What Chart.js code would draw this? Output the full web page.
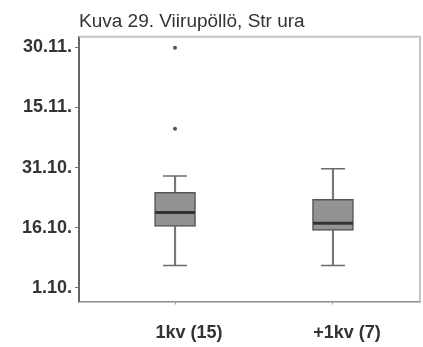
<!DOCTYPE html>
<html>
<head>
<meta charset="utf-8">
<title>Kuva 29. Viirupöllö, Str ura</title>
<script src="https://cdn.jsdelivr.net/npm/chart.js@4/dist/chart.umd.min.js"></script>
<style>
  html, body { margin: 0; padding: 0; background: #fff; }
  #wrap { width: 423px; height: 347px; position: relative; }
</style>
</head>
<body>
<div id="wrap"><canvas id="c"></canvas></div>
<script>
// Days counted from 1 October (1.10. = 0)
const categories = ['1kv (15)', '+1kv (7)'];
const whiskerLow = [5.6, 5.6];
const quartile1 = [15.3, 14.3];
const median = [18.8, 16.1];
const quartile3 = [23.8, 22.1];
const whiskerHigh = [27.9, 29.7];
const outliers = [[39.7, 59.9], []];
const tickValues = [0, 15, 30, 45, 60];
const tickLabels = ['1.10.', '16.10.', '31.10.', '15.11.', '30.11.'];

const pos = categories.map((_, i) => i + 1);

const boxData = pos.map((x, i) => ({ x, y: [quartile1[i], quartile3[i]] }));
const upperWhisker = pos.map((x, i) => ({ x, y: [quartile3[i], whiskerHigh[i]] }));
const lowerWhisker = pos.map((x, i) => ({ x, y: [whiskerLow[i], quartile1[i]] }));
const capData = pos.flatMap((x, i) => [{ x, y: whiskerLow[i] }, { x, y: whiskerHigh[i] }]);
const medianData = pos.map((x, i) => ({ x, y: median[i] }));
const outlierData = pos.flatMap((x, i) => outliers[i].map(y => ({ x, y })));

// Top and right edges of the plot frame
const framePlugin = {
  id: 'frame',
  afterDraw(chart) {
    const { ctx, chartArea: a } = chart;
    ctx.save();
    ctx.strokeStyle = '#c4c4c4';
    ctx.lineWidth = 2;
    ctx.beginPath();
    ctx.moveTo(a.left, a.top);
    ctx.lineTo(a.right, a.top);
    ctx.lineTo(a.right, a.bottom);
    ctx.stroke();
    ctx.restore();
  }
};

const font = 'Liberation Sans, Arial, sans-serif';

new Chart(document.getElementById('c'), {
  type: 'bar',
  data: {
    datasets: [
      {
        label: 'box',
        data: boxData,
        backgroundColor: '#939393',
        borderColor: '#555',
        borderWidth: 1.5,
        borderSkipped: false,
        barThickness: 41,
        grouped: false,
        order: 2
      },
      {
        label: 'upper whisker',
        data: upperWhisker,
        backgroundColor: '#777',
        borderWidth: 0,
        barThickness: 1.5,
        grouped: false,
        order: 3
      },
      {
        label: 'lower whisker',
        data: lowerWhisker,
        backgroundColor: '#777',
        borderWidth: 0,
        barThickness: 1.5,
        grouped: false,
        order: 3
      },
      {
        type: 'scatter',
        label: 'caps',
        data: capData,
        pointStyle: 'line',
        pointRadius: 12,
        pointBorderWidth: 1.5,
        borderColor: '#6a6a6a',
        order: 1
      },
      {
        type: 'scatter',
        label: 'median',
        data: medianData,
        pointStyle: 'line',
        pointRadius: 20,
        pointBorderWidth: 3,
        borderColor: '#333',
        order: 0
      },
      {
        type: 'scatter',
        label: 'outliers',
        data: outlierData,
        pointStyle: 'circle',
        pointRadius: 2,
        backgroundColor: '#555',
        borderColor: '#555',
        pointBorderWidth: 0,
        order: 0
      }
    ]
  },
  options: {
    responsive: true,
    maintainAspectRatio: false,
    animation: false,
    events: [],
    layout: { autoPadding: false, padding: { left: 0, right: 3, top: 0, bottom: 0 } },
    plugins: {
      legend: { display: false },
      tooltip: { enabled: false },
      title: {
        display: true,
        text: 'Kuva 29. Viirupöllö, Str ura',
        align: 'start',
        fullSize: false,
        color: '#333',
        font: { family: font, size: 19, weight: 'normal', lineHeight: 1.2 },
        padding: { top: 10, bottom: 4 }
      }
    },
    scales: {
      x: {
        type: 'linear',
        min: 0.392,
        max: 2.551,
        offset: false,
        afterBuildTicks: s => { s.ticks = pos.map(v => ({ value: v })); },
        afterFit: s => { s.height = 45.5; s.paddingLeft = 0; s.paddingRight = 0; },
        ticks: {
          callback: v => categories[v - 1],
          color: '#333',
          font: { family: font, size: 18, weight: 'bold' },
          padding: 18,
          labelOffset: 14,
          maxRotation: 0
        },
        grid: { display: true, drawOnChartArea: false, drawTicks: true, tickLength: 3, color: '#999', offset: false },
        border: { display: true, color: '#8a8a8a', width: 1.5 }
      },
      y: {
        type: 'linear',
        min: -3.4,
        max: 62.6,
        afterBuildTicks: s => { s.ticks = tickValues.map(v => ({ value: v })); },
        afterFit: s => { s.width = 79; s.paddingTop = 0; s.paddingBottom = 0; },
        ticks: {
          callback: (v, i) => tickLabels[i],
          color: '#333',
          font: { family: font, size: 18, weight: 'bold' },
          padding: 3
        },
        grid: { display: true, drawOnChartArea: false, drawTicks: true, tickLength: 4, color: '#777' },
        border: { display: true, color: '#666', width: 2 }
      }
    }
  },
  plugins: [framePlugin]
});
</script>
</body>
</html>
